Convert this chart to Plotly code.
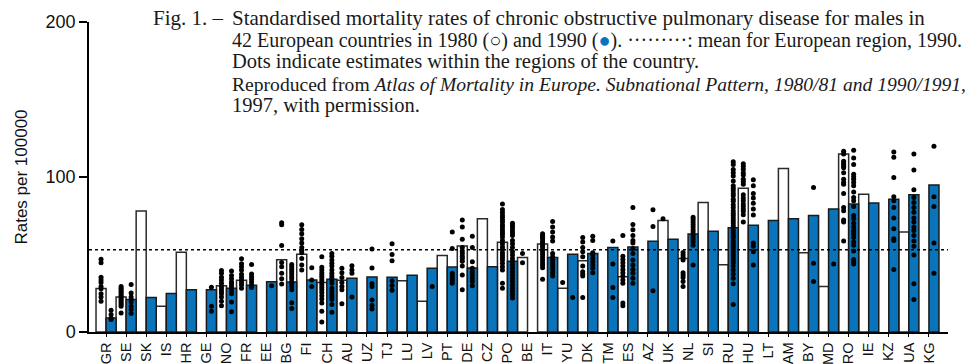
import plotly.graph_objects as go

countries = ["GR", "SE", "SK", "IS", "HR", "GE", "NO", "FR", "EE", "BG", "FI", "CH", "AU", "UZ",
             "TJ", "LU", "LV", "PT", "DE", "CZ", "PO", "BE", "IT", "YU", "DK", "TM", "ES", "AZ",
             "UK", "NL", "SI", "RU", "HU", "LT", "AM", "BY", "MD", "RO", "IE", "KZ", "UA", "KG"]

rate_1980 = [28.0, 22.6, 78.0, 16.6, 51.5, None, 29.8, 33.4, None, 46.6, 50.1, 32.0, 33.4, None,
             None, 33.0, 19.8, 49.4, 55.5, 73.0, 57.9, 48.0, 56.7, 28.3, 46.0, None, 35.7, None,
             71.9, 47.4, 83.6, 43.4, 92.8, None, 105.5, 51.1, 29.4, 114.9, 88.9, None, 64.5, None]

rate_1990 = [9.1, 20.9, 22.3, 24.9, 27.2, 27.2, 28.3, 30.2, 32.5, 32.2, 33.6, 34.0, 34.6, 35.5,
             35.3, 36.6, 41.1, 41.9, 41.3, 42.1, 45.7, None, 48.1, 50.2, 50.6, 54.5, 54.9, 58.5,
             59.9, 63.3, 65.0, 67.2, 68.9, 71.9, 73.0, 75.1, 79.4, 82.6, 83.2, 85.7, 88.5, 94.9]

european_mean_1990 = 53.0

regions_1980 = [
    [47, 44.7, 35.3, 33.6, 31.9, 29.4, 27.9, 24.7, 22.6, 19.8],                      # GR
    [29.4, 28.3, 27.2, 26.2, 25.1, 24, 23, 21.9, 20.9, 19.8, 18.7, 17.7, 16.6, 12.3],  # SE
    [], [], [], [],                                                                    # SK IS HR GE
    [39.6, 37.9, 35.3, 33.6, 31.5, 29.4, 27.7, 26.2, 24.7, 22.6, 19.8, 17.0],          # NO
    [47.2, 44.0, 42.1, 40.0, 37.3, 35.4, 33.6, 31.9, 30.4, 28.3],                      # FR
    [],                                                                                # EE
    [70.5, 69.2, 55.8, 44.9, 42.1, 37.9, 34.3, 30.9],                                  # BG
    [69.2, 66.2, 63.4, 60.2, 57.4, 54.5, 52.8, 51.1, 47.5, 43.2, 40.0],                # FI
    [48.5, 41.7, 40.0, 38.3, 36.8, 35.3, 33.6, 31.9, 30.4, 28.7, 27.2, 25.5, 23.4,
     21.3, 18.7, 13.4, 6.4],                                                           # CH
    [41.1, 38.3, 35.1, 31.9, 29.4, 27.2, 18.3],                                        # AU
    [], [], [], [], [],                                                                # UZ TJ LU LV PT
    [72.3, 67.7, 59.8, 54.5, 52.3, 50.6, 48.9, 47.4, 45.7, 42.6, 36.8, 27.2],          # DE
    [],                                                                                # CZ
    [82.6, 79.1, 77.2, 75.5, 74.0, 72.3, 70.9, 69.1, 67.7, 66.0, 64.5, 63.0, 61.3,
     59.1, 57.0, 54.9, 53.2, 51.1, 49.6, 48.1, 46.4, 44.3, 42.1, 40.0, 31.5, 28.3],    # PO
    [50.6, 44.7],                                                                      # BE
    [63.4, 62.3, 61.3, 60.2, 58.7, 57.4, 56.0, 54.5, 52.8, 51.1, 49.6, 48.1, 46.4,
     44.7, 43.2, 41.5, 34.0],                                                          # IT
    [31.9],                                                                            # YU
    [60.9, 58.1, 54.5, 51.7, 48.5, 42.6, 38.9, 37.4, 36.2, 22.3],                      # DK
    [],                                                                                # TM
    [62.3, 48.9, 46.8, 44.7, 42.6, 40.4, 38.3, 36.2, 33.6, 31.5, 18.7, 17.0],          # ES
    [],                                                                                # AZ
    [73.0],                                                                            # UK
    [51.3, 49.6, 48.1, 46.4, 38.3, 36.8, 35.1, 32.6, 29.4],                            # NL
    [], [],                                                                            # SI RU
    [108.5, 107, 105, 102.8, 101.3, 98.5, 97, 95.3, 88.5, 86.4, 84.7, 82.6, 80.9,
     79.4, 77.9, 75.7, 70.9],                                                          # HU
    [], [], [], [],                                                                    # LT AM BY MD
    [116.6, 114.9, 110.2, 109.1, 108.1, 107.0, 106.0, 102.8, 98.5, 96.4, 95.3, 89.4,
     80.4, 78.3, 72.3, 70.9, 58.7],                                                    # RO
    [], [], [], [],                                                                    # IE KZ UA KG
]

regions_1990 = [
    [14, 11.3, 9.1, 8.1],                                                              # GR
    [30.6, 25.1, 22.6, 20.9, 19.4, 16.6, 14.5, 11.9],                                  # SE
    [], [], [],                                                                        # SK IS HR
    [28.9, 16.6, 13.4],                                                                # GE
    [39.4, 36.4, 34.3, 32.2, 30.9, 29.4, 26.8, 24.7, 19.4, 13.0],                      # NO
    [43.6, 37.5, 35.7, 34.1, 32.2, 30.4, 28.7],                                        # FR
    [29.8],                                                                            # EE
    [43.6, 42.1, 40.5, 38.9, 37.5, 35.7, 34.3, 32.5, 31.1, 29.4, 27.2, 18.8, 15.1],    # BG
    [41.5, 33.6, 29.4],                                                                # FI
    [50.6, 48.9, 46.4, 44.3, 42.6, 40.0, 37.9, 36.2, 34.7, 33.2, 31.5, 28.3, 26.2,
     24.0, 22.6, 20.9, 17.7, 12.8],                                                    # CH
    [42.8, 40.0, 37.9, 22.6],                                                          # AU
    [53.5, 41.3, 31.3, 29.4, 20.6, 17.2, 14.9],                                        # UZ
    [57, 50, 46, 33, 30, 27],                                                          # TJ
    [],                                                                                # LU
    [29.4],                                                                            # LV
    [64.5, 53.8, 37.9, 36.2, 34.7, 33.2, 31.5],                                        # PT
    [61.7, 54.5, 45.3, 41.1, 38.9, 36.8, 34.7, 32.6, 29.8],                            # DE
    [],                                                                                # CZ
    [70.2, 68.7, 67.2, 65.5, 63.8, 62.3, 59.1, 57.0, 54.5, 51.7, 49.6, 47.4, 45.3,
     43.2, 41.1, 38.9, 36.8, 34.7, 32.6, 30.4, 28.3, 26.2, 24.0, 21.9],                # PO
    [],                                                                                # BE
    [71.3, 67.7, 64.5, 61.3, 58.7, 50.6, 48.5, 46.8, 45.3, 43.8, 42.1, 40.4, 38.3, 36.2],  # IT
    [22.3],                                                                            # YU
    [61.7, 59.1, 51.1, 49.6, 47.4, 45.3, 43.2, 41.1, 38.3],                            # DK
    [58.7, 43.8, 28.7, 22.3],                                                          # TM
    [80.4, 69.4, 66.0, 62.3, 59.1, 57.4, 53.8, 50.6, 46.4, 43.2, 40.4, 37.9, 34.7, 31.5],  # ES
    [78.9, 68.1, 26.6],                                                                # AZ
    [],                                                                                # UK
    [74.0, 72.6, 70.9, 69.4, 67.7, 66.0, 64.5, 62.8, 61.3, 59.6, 58.1, 56.0, 43.2],    # NL
    [],                                                                                # SI
    [109.8, 108.1, 104.9, 102.8, 100.6, 97.4, 94.3, 92.8, 91.1, 89.4, 87.9, 85.7, 84.3,
     82.1, 80.4, 78.3, 76.6, 75.1, 73.6, 71.9, 70.4, 68.7, 67.2, 65.5, 63.8, 62.3, 60.9,
     59.1, 57.4, 55.9, 54.5, 52.8, 51.1, 49.6, 48.1, 46.4, 44.7, 42.6, 40.0, 37.4, 34.7,
     31.1, 17.7],                                                                      # RU
    [98.3, 94.3, 89.4, 86.4, 83.0, 79.4, 75.5, 57.4, 55.3, 51.7, 43.2],                # HU
    [], [],                                                                            # LT AM
    [93.2, 44.3, 32.6],                                                                # BY
    [43.8],                                                                            # MD
    [117.2, 112.3, 108.1, 101.7, 100.0, 98.5, 96.4, 94.3, 90.4, 86.8, 84.7, 80.9, 75.1,
     73.0, 70.2, 67.7, 65.5, 64.5, 63.0, 60.9, 58.1, 56.0, 52.3, 46.8, 45.3, 43.8],    # RO
    [],                                                                                # IE
    [116.2, 112.8, 99.6, 87.2, 84.7, 80.4, 73.6, 66.6, 60.2, 59.1, 40.4],              # KZ
    [114.9, 104.5, 91.7, 86.8, 83.6, 80.4, 77.2, 73.6, 70.9, 67.7, 65.5, 62.3, 58.7,
     55.3, 49.6, 31.1, 20.9],                                                          # UA
    [119.8, 87.2, 80.9, 57.4, 37.9],                                                   # KG
]

y_ticks = [0, 100, 200]
y_title = "Rates per 100000"

BLUE = "#0a74bb"
idx = list(range(len(countries)))

fig = go.Figure()
fig.add_trace(go.Bar(x=idx, y=rate_1980, offset=-0.5, width=0.5, name="1980",
                     marker=dict(color="white", line=dict(color="#2a2a2a", width=1.5))))
fig.add_trace(go.Bar(x=idx, y=rate_1990, offset=0.0, width=0.5, name="1990",
                     marker=dict(color=BLUE, line=dict(color="#1a1a1a", width=1.5))))

dx80, dy80, dx90, dy90 = [], [], [], []
for i, vals in enumerate(regions_1980):
    for v in vals:
        dx80.append(i - 0.25)
        dy80.append(v)
for i, vals in enumerate(regions_1990):
    for v in vals:
        dx90.append(i + 0.25)
        dy90.append(v)

fig.add_trace(go.Scatter(x=dx80, y=dy80, mode="markers",
                         marker=dict(color="black", size=5), hoverinfo="y"))
fig.add_trace(go.Scatter(x=dx90, y=dy90, mode="markers",
                         marker=dict(color="black", size=5), hoverinfo="y"))

fig.add_shape(type="line", xref="paper", x0=0, x1=1, yref="y",
              y0=european_mean_1990, y1=european_mean_1990,
              line=dict(color="black", width=1.5, dash="dot"), layer="above")

serif = "Liberation Serif"
caption_lines = [
    "Standardised mortality rates of chronic obstructive pulmonary disease for males in",
    "42 European countries in 1980 (○) and 1990 (<span style='color:%s'>●</span>). ·········: mean for European region, 1990." % BLUE,
    "Dots indicate estimates within the regions of the country.",
    "Reproduced from <i>Atlas of Mortality in Europe. Subnational Pattern, 1980/81 and 1990/1991</i>,",
    "1997, with permission.",
]
caption_sizes = [21.0, 20.0, 20.5, 19.6, 20.5]
line_y = [1.0129, 0.9389, 0.8712, 0.7972, 0.7297]
fig.add_annotation(text="Fig. 1. –", xref="paper", yref="paper", x=0.1600, y=line_y[0],
                   xanchor="right", yanchor="middle", showarrow=False,
                   font=dict(family=serif, size=caption_sizes[0], color="#1a1a1a"))
for t, yy, sz in zip(caption_lines, line_y, caption_sizes):
    fig.add_annotation(text=t, xref="paper", yref="paper", x=0.1641, y=yy,
                       xanchor="left", yanchor="middle", showarrow=False,
                       font=dict(family=serif, size=sz, color="#1a1a1a"))

fig.update_layout(
    width=971, height=364,
    margin=dict(l=89, r=23, t=22, b=32, autoexpand=False),
    plot_bgcolor="white", paper_bgcolor="white",
    showlegend=False, barmode="overlay",
    font=dict(family="Liberation Sans", color="#111"),
)
fig.update_xaxes(range=[-0.85, 41.95], tickmode="array", tickvals=idx, ticktext=countries,
                 tickangle=-90, ticks="outside", ticklen=3, tickwidth=1, tickcolor="black",
                 showline=True, linecolor="black", linewidth=1.5, showgrid=False, zeroline=False,
                 automargin=False,
                 tickfont=dict(family="Liberation Sans", size=14.5, color="#111"))
fig.update_yaxes(range=[0, 200], tickmode="array", tickvals=y_ticks,
                 ticks="outside", ticklen=8, tickwidth=1.5, tickcolor="black",
                 showline=True, linecolor="black", linewidth=1.5, showgrid=False, zeroline=False,
                 automargin=False,
                 tickfont=dict(family="Liberation Sans", size=18, color="#111"),
                 title=dict(text=y_title, font=dict(family="Liberation Sans", size=17, color="#111"),
                            standoff=14))

fig.write_html("out.html")
